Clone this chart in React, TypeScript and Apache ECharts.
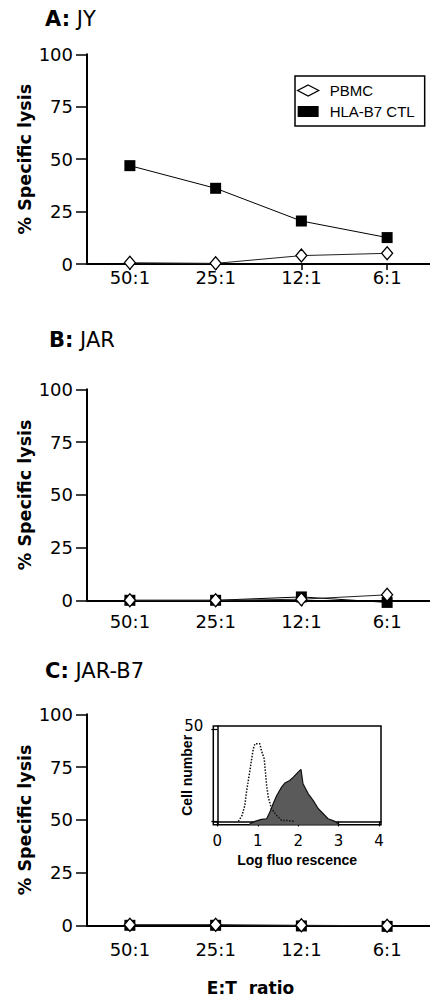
import React, { useEffect, useRef } from 'react';
import * as echarts from 'echarts';

const categories = ['50:1', '25:1', '12:1', '6:1'];
const jyPBMC = [0.6, 0.3, 4.0, 5.1];
const jyCTL = [46.9, 36.1, 20.5, 12.6];
const jarPBMC = [0, 0, 0.5, 2.6];
const jarCTL = [0, 0, 1.6, -1];
const jarB7PBMC = [0.3, 0.3, 0, -0.2];
const jarB7CTL = [0, 0, -0.3, -0.5];

const panelTitles = [
  ['A:', 'JY'],
  ['B:', 'JAR'],
  ['C:', 'JAR-B7'],
];

const insetXTicks = [0, 1, 2, 3, 4];
const insetYTicks = [0, 50];
const insetYLabels = [50];

const histControlX = [0.52, 0.61, 0.68, 0.72, 0.76, 0.8, 0.85, 0.89, 0.93, 1.05, 1.09, 1.16, 1.19, 1.22, 1.26, 1.34, 1.47, 1.59, 1.71, 1.92];
const histControlY = [0, 3.2, 8.6, 15.8, 21.2, 26.6, 33.8, 39.2, 41.9, 41.9, 38.3, 33.8, 26.6, 19.4, 13.1, 6.8, 3.2, 0.5, 0.5, 0];
const histB7X = [0.8, 0.93, 1.09, 1.22, 1.3, 1.38, 1.47, 1.59, 1.67, 1.79, 1.88, 2.0, 2.07, 2.12, 2.25, 2.37, 2.5, 2.62, 2.74, 2.91, 2.99];
const histB7Y = [-1.3, 0, 1.1, 1.4, 5, 9.5, 14, 18.5, 20.7, 22.1, 23.9, 26.6, 28.1, 20.3, 14.9, 11.3, 6.8, 4.1, 1.4, 0, -1.3];

const FONT = 'DejaVu Sans';
const LIB = 'Liberation Sans';

export default function App() {
  const ref = useRef<HTMLDivElement>(null);
  useEffect(() => {
    if (!ref.current) return;
    const chart = echarts.init(ref.current, undefined, { renderer: 'svg' });

    const grids = [
      { left: 87, top: 54.3, width: 343, height: 209.7 },
      { left: 87, top: 389.3, width: 343, height: 211 },
      { left: 87, top: 714.3, width: 343, height: 211 },
    ];
    const labelMargins = [4, 12, 15.5];
    const titleTops = [8, 329, 660];
    const titleLefts = [45, 49, 45];

    const mainX = grids.map((g, i) => ({
      type: 'category',
      gridIndex: i,
      data: categories,
      boundaryGap: true,
      axisLine: { show: true, lineStyle: { color: '#000', width: 2 } },
      axisTick: { show: true, alignWithLabel: true, interval: 0, length: 6, lineStyle: { color: '#000', width: 1.5 } },
      axisLabel: { interval: 0, margin: labelMargins[i], fontFamily: FONT, fontSize: 18, color: '#000' },
      splitLine: { show: false },
      ...(i === 2
        ? {
            name: 'E:T  ratio',
            nameLocation: 'middle',
            nameGap: 54,
            nameMoveOverlap: false,
            nameTextStyle: { fontFamily: FONT, fontWeight: 'bold', fontSize: 17, color: '#000', padding: [0, 16, 0, 0] },
          }
        : {}),
    }));

    const mainY = grids.map((g, i) => ({
      type: 'value',
      gridIndex: i,
      min: 0,
      max: 100,
      interval: 25,
      axisLine: { show: true, lineStyle: { color: '#000', width: 2 } },
      axisTick: { show: true, length: 11, lineStyle: { color: '#000', width: 1.5 } },
      axisLabel: { margin: 14, fontFamily: FONT, fontSize: 18, color: '#000' },
      splitLine: { show: false },
      name: '% Specific lysis',
      nameLocation: 'middle',
      nameRotate: 90,
      nameGap: 53,
      nameMoveOverlap: false,
      nameTextStyle: { fontFamily: FONT, fontWeight: 'bold', fontSize: 17.5, color: '#000' },
    }));

    const ctlSeries = (data: number[], idx: number) => ({
      type: 'line',
      name: 'HLA-B7 CTL',
      xAxisIndex: idx,
      yAxisIndex: idx,
      data,
      clip: false,
      symbol: 'rect',
      symbolSize: 11,
      itemStyle: { color: '#000' },
      lineStyle: { color: '#000', width: 1 },
      z: 3,
    });
    const pbmcSeries = (data: number[], idx: number) => ({
      type: 'line',
      name: 'PBMC',
      xAxisIndex: idx,
      yAxisIndex: idx,
      data,
      clip: false,
      symbol: 'diamond',
      symbolSize: [11, 13],
      itemStyle: { color: '#fff', borderColor: '#000', borderWidth: 1.3 },
      lineStyle: { color: '#222', width: 1 },
      z: 4,
    });

    const option: any = {
      animation: false,
      backgroundColor: '#fff',
      title: panelTitles.map((t, i) => ({
        text: `{b|${t[0]}} ${t[1]}`,
        left: titleLefts[i],
        top: titleTops[i],
        padding: 0,
        textStyle: {
          fontFamily: FONT,
          fontSize: 21,
          fontWeight: 'normal',
          color: '#000',
          rich: { b: { fontFamily: FONT, fontSize: 21, fontWeight: 'bold', color: '#000' } },
        },
      })),
      legend: {
        orient: 'vertical',
        left: 295,
        top: 76,
        padding: [7, 10, 7, 2],
        itemGap: 6,
        itemWidth: 21,
        itemHeight: 11,
        borderColor: '#000',
        borderWidth: 1.5,
        selectedMode: false,
        textStyle: { fontFamily: LIB, fontSize: 15, color: '#000', padding: [0, 0, 0, 6] },
        data: [
          { name: 'PBMC', icon: 'diamond', itemStyle: { color: '#fff', borderColor: '#000', borderWidth: 1.3 } },
          { name: 'HLA-B7 CTL', icon: 'rect', itemStyle: { color: '#000' } },
        ],
      },
      grid: [
        ...grids,
        { left: 213.3, top: 726, width: 167.7, height: 98.7, show: true, borderColor: '#000', borderWidth: 1.5, backgroundColor: '#fff' },
      ],
      xAxis: [
        ...mainX,
        {
          type: 'value',
          gridIndex: 3,
          min: -0.1,
          max: 4.05,
          axisLine: { show: true, lineStyle: { color: '#000', width: 1.5 } },
          axisTick: { show: true, customValues: insetXTicks, length: 5, lineStyle: { color: '#000', width: 1.2 } },
          axisLabel: { customValues: insetXTicks, margin: 9, fontFamily: FONT, fontSize: 15, color: '#000' },
          splitLine: { show: false },
          name: 'Log fluo rescence',
          nameLocation: 'middle',
          nameGap: 28,
          nameMoveOverlap: false,
          nameTextStyle: { fontFamily: LIB, fontWeight: 'bold', fontSize: 14, color: '#000' },
        },
      ],
      yAxis: [
        ...mainY,
        {
          type: 'value',
          gridIndex: 3,
          min: -1.8,
          max: 51.5,
          axisLine: { show: true, lineStyle: { color: '#000', width: 1.5 } },
          axisTick: { show: true, customValues: insetYTicks, length: 6, lineStyle: { color: '#000', width: 1.2 } },
          axisLabel: { customValues: insetYLabels, margin: 10, fontFamily: FONT, fontSize: 15, color: '#000', verticalAlign: 'bottom', lineHeight: 18, padding: [0, 0, -6, 0] },
          splitLine: { show: false },
          name: 'Cell number',
          nameLocation: 'middle',
          nameRotate: 90,
          nameGap: 19,
          nameMoveOverlap: false,
          nameTextStyle: { fontFamily: LIB, fontWeight: 'bold', fontSize: 14, color: '#000' },
        },
      ],
      series: [
        ctlSeries(jyCTL, 0),
        pbmcSeries(jyPBMC, 0),
        ctlSeries(jarCTL, 1),
        pbmcSeries(jarPBMC, 1),
        ctlSeries(jarB7CTL, 2),
        pbmcSeries(jarB7PBMC, 2),
        {
          type: 'line',
          name: 'JAR-B7 stain',
          xAxisIndex: 3,
          yAxisIndex: 3,
          data: histB7X.map((x, i) => [x, histB7Y[i]]),
          symbol: 'none',
          lineStyle: { color: '#111', width: 1.2 },
          areaStyle: { color: '#5a5a5a', opacity: 1, origin: 'start' },
          z: 2,
        },
        {
          type: 'line',
          name: 'Control',
          xAxisIndex: 3,
          yAxisIndex: 3,
          data: histControlX.map((x, i) => [x, histControlY[i]]),
          symbol: 'none',
          lineStyle: { color: '#111', width: 1.5, type: [1.5, 1.5] },
          z: 3,
        },
      ],
    };
    chart.setOption(option);
    return () => chart.dispose();
  }, []);
  return <div ref={ref} style={{ position: 'absolute', left: 0, top: 0, width: 430, height: 998 }} />;
}
